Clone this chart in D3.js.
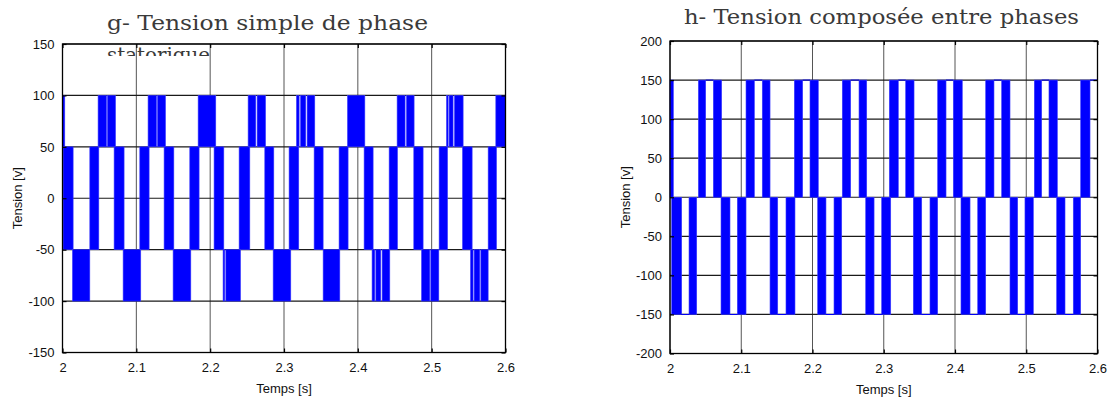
<!DOCTYPE html>
<html>
<head>
<meta charset="utf-8">
<script src="https://d3js.org/d3.v7.min.js"></script>
<style>
    body { margin: 0; background: #fff; }
    svg { display: block; }
    .tick text { font-family: "Liberation Sans", Arial, sans-serif; font-size: 13px; fill: #111; }
    .label { font-family: "Liberation Sans", Arial, sans-serif; font-size: 13px; fill: #111; }
    .title { font-family: "DejaVu Serif", "Liberation Serif", serif; font-size: 21px; fill: #3a3a3a; }
</style>
</head>
<body>
<svg id="svg" width="1114" height="407"></svg>
<script>
    // shared ticks
    let xTicks = [2, 2.1, 2.2, 2.3, 2.4, 2.5, 2.6];
    let gYTicks = [-150, -100, -50, 0, 50, 100, 150];
    let hYTicks = [-200, -150, -100, -50, 0, 50, 100, 150, 200];

    // g- phase voltage : switching bands [t0, t1]
    let gUpper = [ // 50 .. 100
        [2.000, 2.0031], [2.0482, 2.0596], [2.0609, 2.0718],
        [2.1159, 2.1273], [2.1287, 2.1395], [2.1837, 2.2076],
        [2.2514, 2.2618], [2.2636, 2.275],
        [2.3169, 2.3205], [2.3224, 2.3295], [2.3313, 2.3417],
        [2.386, 2.4095], [2.4532, 2.464], [2.4659, 2.4762],
        [2.5201, 2.5223], [2.5236, 2.529], [2.5309, 2.5426],
        [2.5869, 2.6]
    ];
    let gMiddle = [ // -50 .. 50
        [2.0008, 2.0144], [2.037, 2.0492], [2.0699, 2.0834],
        [2.1047, 2.1173], [2.1376, 2.1508], [2.1724, 2.185],
        [2.2053, 2.2185], [2.2392, 2.2537], [2.274, 2.2862],
        [2.3069, 2.32], [2.3408, 2.353], [2.3746, 2.3868],
        [2.4085, 2.4207], [2.4424, 2.4537], [2.4758, 2.4884],
        [2.5101, 2.5215], [2.5418, 2.5548], [2.5765, 2.5878]
    ];
    let gLower = [ // -100 .. -50
        [2.0135, 2.037], [2.0821, 2.106], [2.1498, 2.1738],
        [2.2175, 2.2198], [2.2212, 2.2411], [2.2853, 2.3092],
        [2.353, 2.3756], [2.4193, 2.423], [2.4244, 2.4311], [2.4329, 2.4433],
        [2.4863, 2.4975], [2.4988, 2.5097],
        [2.5526, 2.5561], [2.5575, 2.5652], [2.5666, 2.5765]
    ];

    // h- line voltage
    let hUpper = [ // 0 .. 150
        [2.000, 2.0047], [2.0398, 2.0501], [2.0608, 2.0725],
        [2.1067, 2.1184], [2.1295, 2.1404], [2.1745, 2.1862],
        [2.1965, 2.2081], [2.2418, 2.2536], [2.2653, 2.2761],
        [2.3078, 2.3204], [2.3308, 2.3425], [2.3757, 2.3874],
        [2.3976, 2.4102], [2.4431, 2.4547], [2.4655, 2.4772],
        [2.5113, 2.5217], [2.5319, 2.5436], [2.5764, 2.5895]
    ];
    let hLower = [ // -150 .. 0
        [2.0024, 2.0164], [2.0267, 2.0375], [2.0716, 2.0842],
        [2.0945, 2.1067], [2.1404, 2.1512], [2.1628, 2.1754],
        [2.2073, 2.2189], [2.2302, 2.241], [2.2747, 2.2864],
        [2.2971, 2.3098], [2.3415, 2.3533], [2.3649, 2.3757],
        [2.4084, 2.4211], [2.4319, 2.4431], [2.4772, 2.488],
        [2.4982, 2.5099], [2.5427, 2.5544], [2.566, 2.5764]
    ];
    let hRestTop = [ // held at 150
        [2.0501, 2.0608], [2.1184, 2.1295], [2.1862, 2.1965],
        [2.2536, 2.2653], [2.3204, 2.3308], [2.3874, 2.3976],
        [2.4547, 2.4655], [2.5217, 2.5319], [2.5895, 2.6]
    ];
    let hRestBottom = [ // held at -150
        [2.0164, 2.0267], [2.0842, 2.0945], [2.1512, 2.1628],
        [2.2189, 2.2302], [2.2864, 2.2971], [2.3533, 2.3649],
        [2.4211, 2.4319], [2.488, 2.4982], [2.5544, 2.566]
    ];

    let svg = d3.select('#svg');
    svg.append('rect').attr('width', 1114).attr('height', 407).attr('fill', '#fff');

    function drawPanel(p) {
        let w = p.x1 - p.x0;
        let h = p.y1 - p.y0;
        let xScale = d3.scaleLinear().domain([2, 2.6]).range([0, w]);
        let yScale = d3.scaleLinear().domain(p.yDomain).range([h, 0]);

        let g = svg.append('g').attr('transform', `translate(${p.x0}, ${p.y0})`);

        // grid
        g.selectAll('.vgrid').data(xTicks).enter().append('line')
            .attr('x1', d => xScale(d)).attr('x2', d => xScale(d))
            .attr('y1', 0).attr('y2', h)
            .attr('stroke', '#555').attr('stroke-width', 1);
        g.selectAll('.hgrid').data(p.yTicks).enter().append('line')
            .attr('x1', 0).attr('x2', w)
            .attr('y1', d => yScale(d)).attr('y2', d => yScale(d))
            .attr('stroke', '#1a1a1a').attr('stroke-width', 1.2);

        // switching bands
        p.bands.forEach(b => {
            g.selectAll(null).data(b.spans).enter().append('rect')
                .attr('x', d => xScale(d[0]))
                .attr('width', d => Math.max(0.8, xScale(d[1]) - xScale(d[0])))
                .attr('y', yScale(b.hi))
                .attr('height', yScale(b.lo) - yScale(b.hi))
                .attr('fill', '#0000ff')
                .attr('stroke', '#3a3aff').attr('stroke-width', 0.6);
        });
        // held levels
        (p.rests || []).forEach(r => {
            g.selectAll(null).data(r.spans).enter().append('line')
                .attr('x1', d => xScale(d[0])).attr('x2', d => xScale(d[1]))
                .attr('y1', yScale(r.level)).attr('y2', yScale(r.level))
                .attr('stroke', '#0000ff').attr('stroke-width', 1);
        });

        // frame and axes (MATLAB style, ticks inside)
        g.append('rect').attr('width', w).attr('height', h)
            .attr('fill', 'none').attr('stroke', '#000').attr('stroke-width', 1.3);

        let xAxis = d3.axisBottom(xScale).tickValues(xTicks).tickSize(-4).tickSizeOuter(0)
            .tickPadding(10).tickFormat(d => String(d));
        let yAxis = d3.axisLeft(yScale).tickValues(p.yTicks).tickSize(-4).tickSizeOuter(0)
            .tickPadding(8).tickFormat(d => String(d));

        let xg = g.append('g').attr('transform', `translate(0, ${h})`).call(xAxis);
        let yg = g.append('g').call(yAxis);
        g.append('g').call(d3.axisTop(xScale).tickValues(xTicks).tickSize(-4).tickSizeOuter(0).tickFormat(''));
        g.append('g').attr('transform', `translate(${w}, 0)`)
            .call(d3.axisRight(yScale).tickValues(p.yTicks).tickSize(-4).tickSizeOuter(0).tickFormat(''));
        g.selectAll('.domain').remove();
        g.selectAll('.tick line').attr('stroke', '#000').attr('stroke-width', 1.2);
        xg.selectAll('text').attr('dy', '0.71em');

        g.append('text').attr('class', 'label')
            .attr('x', w / 2).attr('y', h + 40)
            .attr('text-anchor', 'middle').text('Temps [s]');
        g.append('text').attr('class', 'label')
            .attr('transform', `translate(${p.ylabX - p.x0}, ${h / 2}) rotate(-90)`)
            .attr('text-anchor', 'middle').text('Tension [v]');
    }

    drawPanel({
        x0: 62.5, x1: 505.5, y0: 44, y1: 352.5,
        yDomain: [-150, 150], yTicks: gYTicks, ylabX: 22,
        bands: [
            {lo: 50, hi: 100, spans: gUpper},
            {lo: -50, hi: 50, spans: gMiddle},
            {lo: -100, hi: -50, spans: gLower}
        ]
    });

    drawPanel({
        x0: 670, x1: 1097.5, y0: 41, y1: 353.5,
        yDomain: [-200, 200], yTicks: hYTicks, ylabX: 629.5,
        bands: [
            {lo: 0, hi: 150, spans: hUpper},
            {lo: -150, hi: 0, spans: hLower}
        ],
        rests: [
            {level: 150, spans: hRestTop},
            {level: -150, spans: hRestBottom}
        ]
    });

    // titles
    svg.append('text').attr('class', 'title')
        .attr('x', 107).attr('y', 30)
        .attr('textLength', 321).attr('lengthAdjust', 'spacingAndGlyphs')
        .text('g- Tension simple de phase');

    // second line of the title box, cut off by the box edge
    svg.append('clipPath').attr('id', 'cut')
        .append('rect').attr('x', 0).attr('y', 0).attr('width', 560).attr('height', 56);
    svg.append('text').attr('class', 'title')
        .attr('clip-path', 'url(#cut)')
        .attr('x', 107).attr('y', 62)
        .attr('textLength', 103).attr('lengthAdjust', 'spacingAndGlyphs')
        .text('statorique');

    svg.append('text').attr('class', 'title')
        .attr('x', 684).attr('y', 24)
        .attr('textLength', 395).attr('lengthAdjust', 'spacingAndGlyphs')
        .text('h- Tension composée entre phases');
</script>
</body>
</html>
